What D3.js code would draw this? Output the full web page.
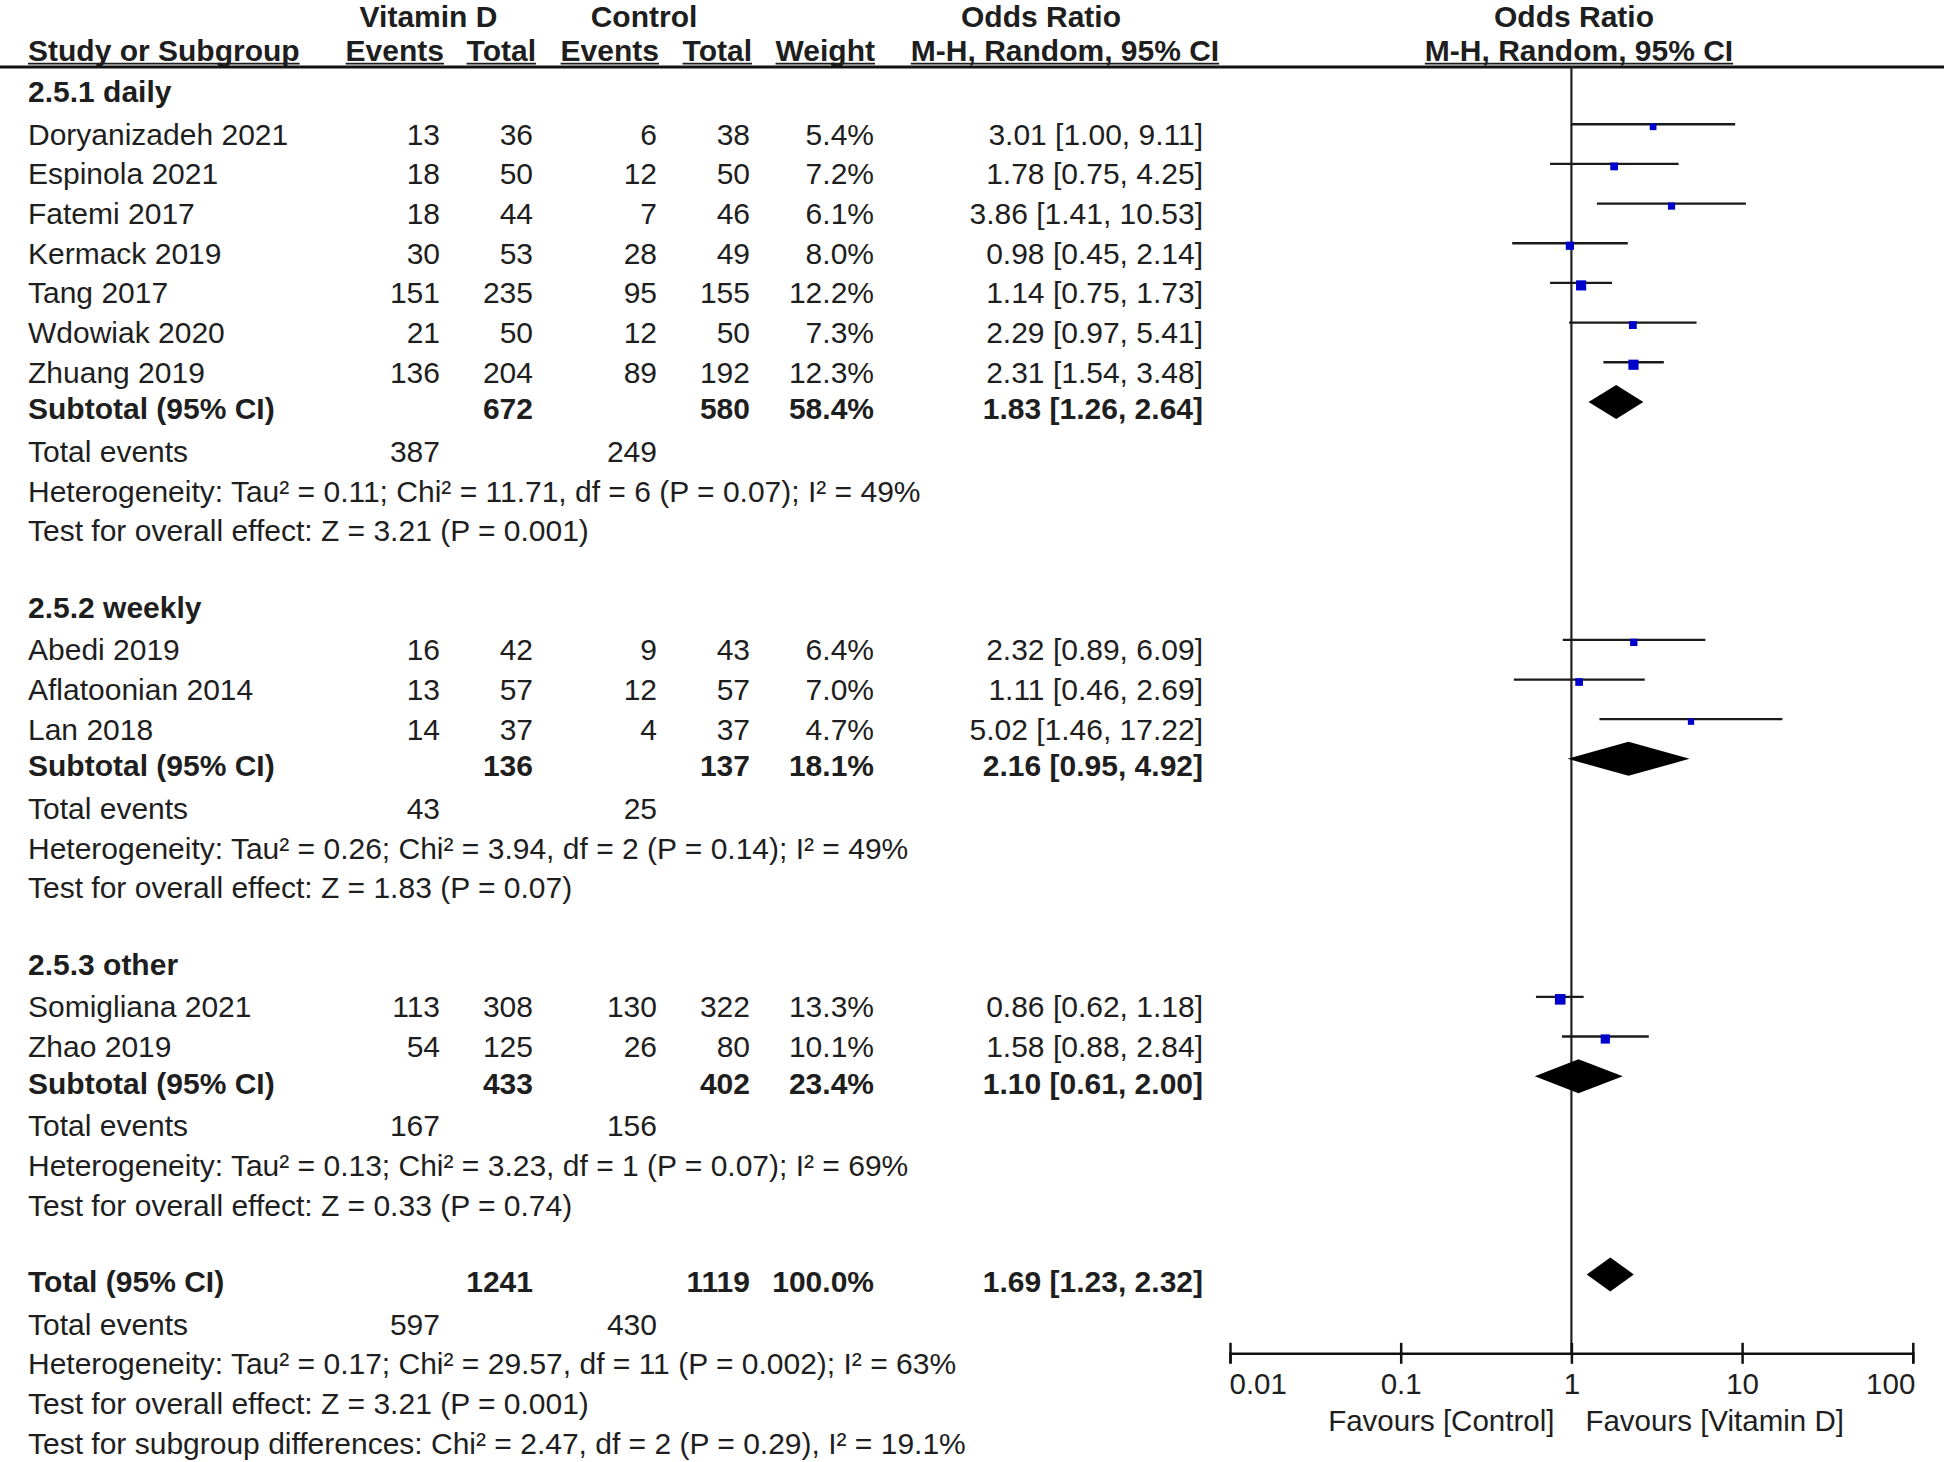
<!DOCTYPE html>
<html><head><meta charset="utf-8">
<script src="https://cdn.jsdelivr.net/npm/d3@7"></script>
<style>body{margin:0;background:#fff} svg text{font-family:"Liberation Sans",Arial,Helvetica,sans-serif;fill:#1e1e1e;}</style>
</head><body><svg id="c" width="1944" height="1462"></svg>
<script>
// ---------- data ----------
const studyNames = ["Doryanizadeh 2021","Espinola 2021","Fatemi 2017","Kermack 2019","Tang 2017","Wdowiak 2020","Zhuang 2019","Abedi 2019","Aflatoonian 2014","Lan 2018","Somigliana 2021","Zhao 2019"];
const studyGroup = [0,0,0,0,0,0,0,1,1,1,2,2];
const vitEvents  = [13,18,18,30,151,21,136,16,13,14,113,54];
const vitTotal   = [36,50,44,53,235,50,204,42,57,37,308,125];
const ctrlEvents = [6,12,7,28,95,12,89,9,12,4,130,26];
const ctrlTotal  = [38,50,46,49,155,50,192,43,57,37,322,80];
const weights    = [5.4,7.2,6.1,8.0,12.2,7.3,12.3,6.4,7.0,4.7,13.3,10.1];
const oddsRatio  = [3.01,1.78,3.86,0.98,1.14,2.29,2.31,2.32,1.11,5.02,0.86,1.58];
const ciLow      = [1.00,0.75,1.41,0.45,0.75,0.97,1.54,0.89,0.46,1.46,0.62,0.88];
const ciHigh     = [9.11,4.25,10.53,2.14,1.73,5.41,3.48,6.09,2.69,17.22,1.18,2.84];

const groupNames      = ["2.5.1 daily","2.5.2 weekly","2.5.3 other"];
const groupVitTotal   = [672,136,433];
const groupCtrlTotal  = [580,137,402];
const groupWeight     = [58.4,18.1,23.4];
const groupOR         = [1.83,2.16,1.10];
const groupLow        = [1.26,0.95,0.61];
const groupHigh       = [2.64,4.92,2.00];
const groupVitEvents  = [387,43,167];
const groupCtrlEvents = [249,25,156];
const groupHetero = [
  "Heterogeneity: Tau\u00b2 = 0.11; Chi\u00b2 = 11.71, df = 6 (P = 0.07); I\u00b2 = 49%",
  "Heterogeneity: Tau\u00b2 = 0.26; Chi\u00b2 = 3.94, df = 2 (P = 0.14); I\u00b2 = 49%",
  "Heterogeneity: Tau\u00b2 = 0.13; Chi\u00b2 = 3.23, df = 1 (P = 0.07); I\u00b2 = 69%"];
const groupTest = [
  "Test for overall effect: Z = 3.21 (P = 0.001)",
  "Test for overall effect: Z = 1.83 (P = 0.07)",
  "Test for overall effect: Z = 0.33 (P = 0.74)"];

const totalLabel = "Total (95% CI)";
const totalVit = 1241, totalCtrl = 1119, totalWeight = 100.0;
const totalOR = 1.69, totalLow = 1.23, totalHigh = 2.32;
const totalVitEvents = 597, totalCtrlEvents = 430;
const totalHetero = "Heterogeneity: Tau\u00b2 = 0.17; Chi\u00b2 = 29.57, df = 11 (P = 0.002); I\u00b2 = 63%";
const totalTest = "Test for overall effect: Z = 3.21 (P = 0.001)";
const subgroupTest = "Test for subgroup differences: Chi\u00b2 = 2.47, df = 2 (P = 0.29), I\u00b2 = 19.1%";

const headTop = ["Vitamin D","Control","Odds Ratio","Odds Ratio"];
const headCols = ["Study or Subgroup","Events","Total","Events","Total","Weight","M-H, Random, 95% CI","M-H, Random, 95% CI"];
const tickValues = [0.01,0.1,1,10,100];
const tickLabels = ["0.01","0.1","1","10","100"];
const favourLabels = ["Favours [Control]","Favours [Vitamin D]"];

// ---------- layout ----------
const svg = d3.select("#c");
const FS = 30;
const AFS = 29.5;
const x = d3.scaleLog().domain([0.01,100]).range([1230,1912.8]);
const rowY = d3.scaleLinear().domain([-1,33]).range([84.6,1433.1]);
const colX = {label:28, vitE:440, vitT:533, ctrlE:657, ctrlT:750, w:874, or:1203};
const REG = 20.5, BOLD = 17.5;

function txt(str, xx, yy, anchor, bold, size){
  return svg.append("text").attr("x",xx).attr("y",yy)
    .attr("text-anchor",anchor||"start")
    .attr("font-size",size||FS)
    .attr("font-weight",bold?"bold":"normal")
    .text(str);
}
const fmtOR = (o,l,h)=>`${o.toFixed(2)} [${l.toFixed(2)}, ${h.toFixed(2)}]`;
const fmtW = w=>w.toFixed(1)+"%";

// header
const topX = [428.5,644,1041,1574];
headTop.forEach((h,i)=>txt(h,topX[i],27,"middle",true));
const colPos = [[28,"start"],[444,"end"],[536,"end"],[659,"end"],[752,"end"],[875,"end"],[1065,"middle"],[1579,"middle"]];
headCols.forEach((h,i)=>{
  const t = txt(h,colPos[i][0],61,colPos[i][1],true);
  const bb = t.node().getBBox();
  svg.append("line").attr("x1",bb.x).attr("x2",bb.x+bb.width).attr("y1",63.6).attr("y2",63.6)
    .attr("stroke","#1e1e1e").attr("stroke-width",1.8);
});
svg.append("line").attr("x1",0).attr("x2",1944).attr("y1",67).attr("y2",67)
  .attr("stroke","#111").attr("stroke-width",3);

// reference line at OR = 1
const axisY = 1353.3;
svg.append("line").attr("x1",x(1)).attr("x2",x(1)).attr("y1",67).attr("y2",axisY)
  .attr("stroke","#222").attr("stroke-width",2.2);

function diamond(o,l,h,yy){
  svg.append("path")
    .attr("d",`M${x(l)},${yy}L${x(o)},${yy-17}L${x(h)},${yy}L${x(o)},${yy+17}Z`)
    .attr("fill","#000");
}

let r = -1;
groupNames.forEach((g,gi)=>{
  txt(g,colX.label,rowY(r)+BOLD,"start",true); r++;
  studyNames.forEach((s,i)=>{
    if(studyGroup[i]!==gi) return;
    const y = rowY(r), b = y+REG;
    txt(s,colX.label,b);
    txt(vitEvents[i],colX.vitE,b,"end");
    txt(vitTotal[i],colX.vitT,b,"end");
    txt(ctrlEvents[i],colX.ctrlE,b,"end");
    txt(ctrlTotal[i],colX.ctrlT,b,"end");
    txt(fmtW(weights[i]),colX.w,b,"end");
    txt(fmtOR(oddsRatio[i],ciLow[i],ciHigh[i]),colX.or,b,"end");
    svg.append("line").attr("x1",x(ciLow[i])).attr("x2",x(ciHigh[i])).attr("y1",y).attr("y2",y)
      .attr("stroke","#1a1a1a").attr("stroke-width",2.3);
    const side = 2.9*Math.sqrt(weights[i]);
    svg.append("rect").attr("x",x(oddsRatio[i])-side/2).attr("y",y+2.5-side/2)
      .attr("width",side).attr("height",side).attr("fill","#0000cc");
    r++;
  });
  // subtotal
  let y = rowY(r), b = y+BOLD;
  txt("Subtotal (95% CI)",colX.label,b,"start",true);
  txt(groupVitTotal[gi],colX.vitT,b,"end",true);
  txt(groupCtrlTotal[gi],colX.ctrlT,b,"end",true);
  txt(fmtW(groupWeight[gi]),colX.w,b,"end",true);
  txt(fmtOR(groupOR[gi],groupLow[gi],groupHigh[gi]),colX.or,b,"end",true);
  diamond(groupOR[gi],groupLow[gi],groupHigh[gi],y);
  r++;
  b = rowY(r)+REG;
  txt("Total events",colX.label,b);
  txt(groupVitEvents[gi],colX.vitE,b,"end");
  txt(groupCtrlEvents[gi],colX.ctrlE,b,"end");
  r++;
  txt(groupHetero[gi],colX.label,rowY(r)+REG); r++;
  txt(groupTest[gi],colX.label,rowY(r)+REG); r++;
  r++; // blank
});

// overall total
{
  let y = rowY(r), b = y+BOLD;
  txt(totalLabel,colX.label,b,"start",true);
  txt(totalVit,colX.vitT,b,"end",true);
  txt(totalCtrl,colX.ctrlT,b,"end",true);
  txt(fmtW(totalWeight),colX.w,b,"end",true);
  txt(fmtOR(totalOR,totalLow,totalHigh),colX.or,b,"end",true);
  diamond(totalOR,totalLow,totalHigh,y);
  r++;
  b = rowY(r)+REG;
  txt("Total events",colX.label,b);
  txt(totalVitEvents,colX.vitE,b,"end");
  txt(totalCtrlEvents,colX.ctrlE,b,"end");
  r++;
  txt(totalHetero,colX.label,rowY(r)+REG); r++;
  txt(totalTest,colX.label,rowY(r)+REG); r++;
  txt(subgroupTest,colX.label,rowY(r)+REG); r++;
}

// axis
const axis = d3.axisBottom(x).tickValues(tickValues).tickFormat((d,i)=>tickLabels[i]).tickSize(10);
const ag = svg.append("g").attr("transform",`translate(0,${axisY})`).call(axis);
ag.select(".domain").attr("stroke","#111").attr("stroke-width",2.5);
ag.selectAll(".tick line").attr("y1",-10.5).attr("y2",10.5).attr("stroke","#111").attr("stroke-width",2.5);
ag.selectAll(".tick text").attr("y",40.7).attr("dy",null)
  .attr("font-size",AFS).attr("font-family",'"Liberation Sans",Arial,sans-serif').attr("fill","#1e1e1e")
  .attr("text-anchor",(d,i)=>i===0?"start":(i===tickValues.length-1?"end":"middle"))
  .attr("x",(d,i)=>i===0?-1:(i===tickValues.length-1?2:0));
txt(favourLabels[0],x(1)-17,1431,"end",false,AFS);
txt(favourLabels[1],x(1)+14,1431,"start",false,AFS);
</script></body></html>
